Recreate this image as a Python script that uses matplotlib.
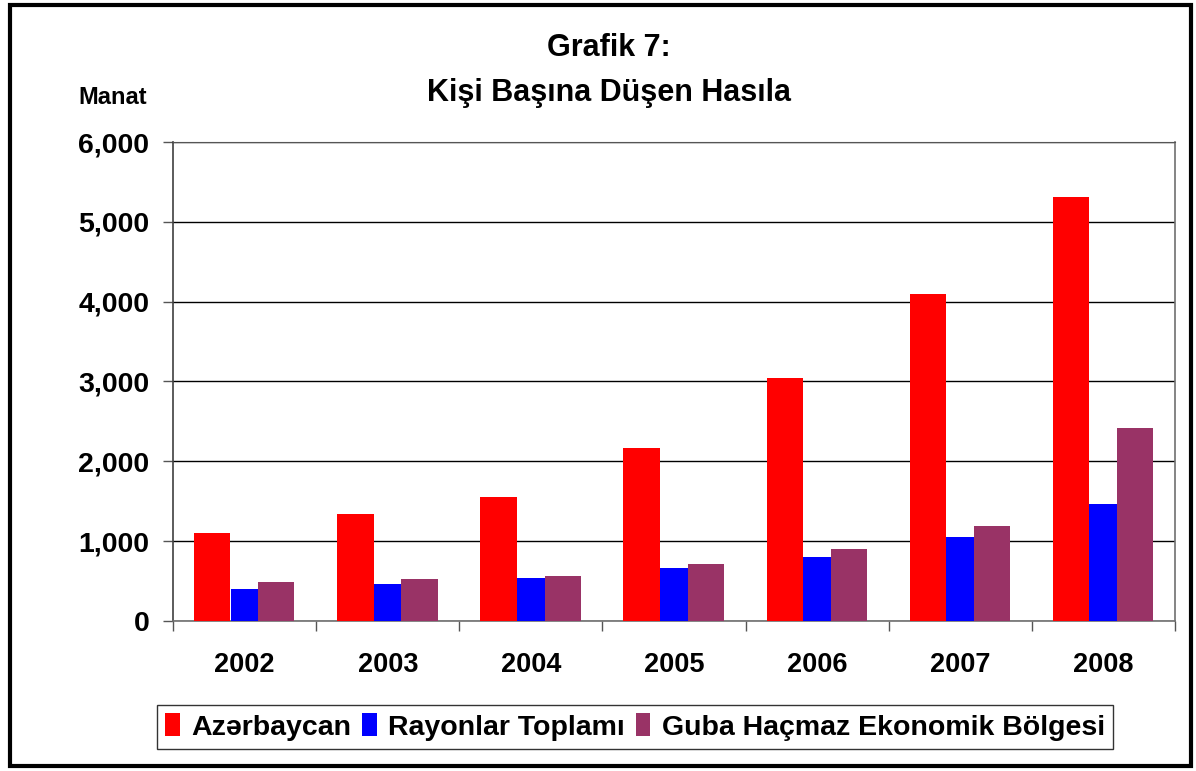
import matplotlib.pyplot as plt
import numpy as np
from matplotlib.ticker import FuncFormatter

plt.rcParams['font.family'] = ['Liberation Sans', 'DejaVu Sans']
plt.rcParams['font.weight'] = 'bold'

years = ["2002", "2003", "2004", "2005", "2006", "2007", "2008"]
azerbaycan = [1100, 1335, 1555, 2170, 3045, 4090, 5315]
rayonlar = [405, 460, 535, 660, 800, 1050, 1460]
guba = [485, 530, 560, 710, 900, 1190, 2415]

series_names = ["Azərbaycan", "Rayonlar Toplamı", "Guba Haçmaz Ekonomik Bölgesi"]
colors = ["#FF0000", "#0000FF", "#993366"]

fig = plt.figure(figsize=(11.96, 7.71), dpi=100)
ax = fig.add_axes([0.1447, 0.1946, 0.8377, 0.6212])

x = np.arange(len(years))
ax.bar(x - 0.226, azerbaycan, width=0.254, color=colors[0], label=series_names[0], zorder=3)
ax.bar(x + 0.0, rayonlar, width=0.196, color=colors[1], label=series_names[1], zorder=3)
ax.bar(x + 0.222, guba, width=0.252, color=colors[2], label=series_names[2], zorder=3)

ax.set_xlim(-0.5, len(years) - 0.5)
ax.set_ylim(0, 6000)
ax.set_yticks(range(0, 6001, 1000))
ax.yaxis.set_major_formatter(FuncFormatter(lambda v, p: f"{int(v):,}"))
ax.yaxis.grid(True, color="black", linewidth=1, zorder=0)

ax.set_xticks(x)
ax.set_xticklabels(years)
ax.set_xticks(np.arange(-0.5, len(years)), minor=True)
ax.tick_params(axis="x", which="major", length=0, pad=22, labelsize=19.5)
ax.tick_params(axis="x", which="minor", length=7, width=1, color="#555555")
ax.tick_params(axis="y", length=7, width=1, color="#555555", pad=10, labelsize=20.5)

for s in ["left", "bottom", "right"]:
    ax.spines[s].set_color("#707070")
    ax.spines[s].set_linewidth(1.2)
ax.spines["top"].set_color("#555555")
ax.spines["left"].set_color("#404040")

fig.text(0.509, 0.938, "Grafik 7:", ha="center", va="center", fontsize=22, fontweight="bold")
fig.text(0.509, 0.880, "Kişi Başına Düşen Hasıla", ha="center", va="center", fontsize=22, fontweight="bold")
fig.text(0.094, 0.874, "Manat", ha="center", va="center", fontsize=17, fontweight="bold")

leg = fig.legend(loc="center", bbox_to_anchor=(0.531, 0.057), ncol=3, fontsize=20.5,
                 frameon=True, fancybox=False, edgecolor="black", handlelength=0.5,
                 handleheight=0.85, handletextpad=0.4, columnspacing=0.4, borderpad=0.3)
leg.get_frame().set_linewidth(1)

border = plt.Rectangle((0.008, 0.006), 0.988, 0.988, transform=fig.transFigure,
                       fill=False, edgecolor="black", linewidth=3)
fig.patches.append(border)

fig.savefig("out.png", dpi=100)
